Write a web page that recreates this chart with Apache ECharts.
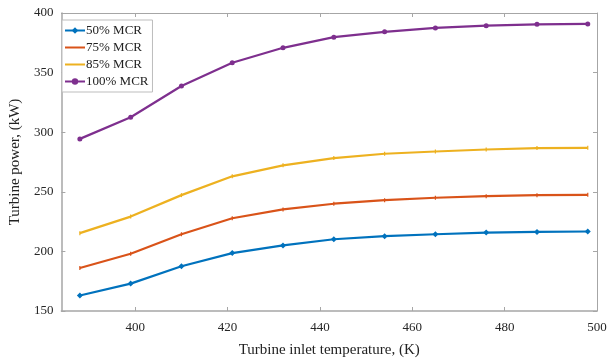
<!DOCTYPE html>
<html>
<head>
<meta charset="utf-8">
<title>Turbine power</title>
<script src="https://cdn.jsdelivr.net/npm/echarts@6/dist/echarts.min.js"></script>
<style type="text/css">
html, body { margin: 0; padding: 0; background: #fff; }
#main { width: 610px; height: 363px; }
</style>
</head>
<body>
<div id="main"></div>
<script type="text/javascript">
// turbine inlet temperature (K)
var temps = [388, 399, 410, 421, 432, 443, 454, 465, 476, 487, 498];
var xTicks = [400, 420, 440, 460, 480, 500];

// turbine power (kW) for each load
var mcr50 = [163, 173, 187.5, 198.6, 205, 210.2, 212.8, 214.4, 215.8, 216.3, 216.7];
var mcr75 = [186.1, 198, 214.4, 227.8, 235.2, 240, 243, 245, 246.3, 247.2, 247.5];
var mcr85 = [215.3, 229.2, 247.2, 263, 272.2, 278.3, 281.9, 283.8, 285.5, 286.7, 286.9];
var mcr100 = [294.4, 312.5, 338.8, 358.3, 370.8, 379.7, 384.2, 387.5, 389.4, 390.5, 390.8];

var names = ['50% MCR', '75% MCR', '85% MCR', '100% MCR'];
var colors = ['#0072BD', '#D95319', '#EDB120', '#7E2F8E'];

function pairs(ys) {
	return temps.map(function (t, i) { return [t, ys[i]]; });
}

var font = 'Liberation Serif';
var boxColor = '#a6a6a6';

var myChart = echarts.init(document.getElementById('main'));

var option = {
	animation: false,
	color: colors,
	grid: { left: 56, right: 13, top: 13, bottom: 50 },
	legend: {
		orient: 'vertical',
		left: 62,
		top: 20,
		padding: [4, 4, 4, 2],
		itemGap: 4,
		itemWidth: 20,
		itemHeight: 8,
		backgroundColor: '#fff',
		borderColor: '#bdbdbd',
		borderWidth: 1,
		borderRadius: 0,
		textStyle: { fontFamily: font, fontSize: 13, color: '#222', padding: [0, 0, 0, -4] },
		data: [
			{ name: names[0] },
			{ name: names[1], itemStyle: { opacity: 0 } },
			{ name: names[2], itemStyle: { opacity: 0 } },
			{ name: names[3] }
		]
	},
	xAxis: [{
		type: 'value',
		min: 384,
		max: 500,
		name: 'Turbine inlet temperature, (K)',
		nameLocation: 'middle',
		nameGap: 32,
		nameTextStyle: { fontFamily: font, fontSize: 15, color: '#222' },
		axisLine: { show: true, lineStyle: { color: boxColor, width: 1.5 } },
		axisTick: { show: true, inside: true, length: 4, customValues: xTicks, lineStyle: { color: boxColor } },
		axisLabel: { customValues: xTicks, fontFamily: font, fontSize: 13, color: '#262626', margin: 10 },
		splitLine: { show: false }
	}, {
		type: 'value',
		position: 'top',
		min: 384,
		max: 500,
		axisLine: { show: true, onZero: false, lineStyle: { color: boxColor, width: 1 } },
		axisTick: { show: true, inside: true, length: 4, customValues: xTicks, lineStyle: { color: boxColor } },
		axisLabel: { show: false },
		splitLine: { show: false }
	}],
	yAxis: [{
		type: 'value',
		min: 150,
		max: 400,
		interval: 50,
		name: 'Turbine power, (kW)',
		nameLocation: 'middle',
		nameGap: 36,
		nameTextStyle: { fontFamily: font, fontSize: 15, color: '#222' },
		axisLine: { show: true, lineStyle: { color: boxColor, width: 1.5 } },
		axisTick: { show: true, inside: true, length: 4, lineStyle: { color: boxColor } },
		axisLabel: { fontFamily: font, fontSize: 13, color: '#262626', margin: 8 },
		splitLine: { show: false }
	}, {
		type: 'value',
		position: 'right',
		min: 150,
		max: 400,
		interval: 50,
		axisLine: { show: true, onZero: false, lineStyle: { color: boxColor, width: 1 } },
		axisTick: { show: true, inside: true, length: 4, lineStyle: { color: boxColor } },
		axisLabel: { show: false },
		splitLine: { show: false }
	}],
	series: [{
		name: names[0],
		type: 'line',
		data: pairs(mcr50),
		symbol: 'diamond',
		symbolSize: 6,
		lineStyle: { width: 2.2 },
		z: 5
	}, {
		name: names[1],
		type: 'line',
		data: pairs(mcr75),
		symbol: 'rect',
		symbolSize: [1.2, 4],
		lineStyle: { width: 2.2 }
	}, {
		name: names[2],
		type: 'line',
		data: pairs(mcr85),
		symbol: 'rect',
		symbolSize: [1.2, 4],
		lineStyle: { width: 2.2 }
	}, {
		name: names[3],
		type: 'line',
		data: pairs(mcr100),
		symbol: 'circle',
		symbolSize: 5,
		lineStyle: { width: 2.2 }
	}]
};
myChart.setOption(option);
</script>
</body>
</html>
